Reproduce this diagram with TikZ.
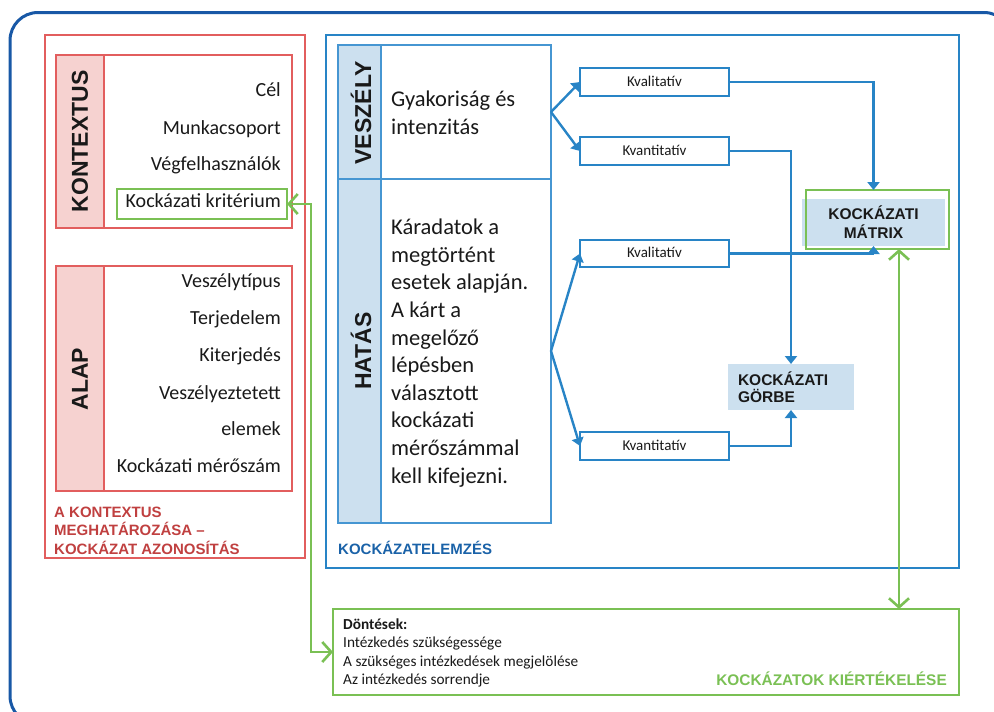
\documentclass[tikz,border=0pt]{standalone}
\usepackage{fontspec}
\setmainfont{Carlito}
\newfontfamily\arialfont{Liberation Sans}
\usetikzlibrary{arrows.meta}

\definecolor{cred}{RGB}{226,94,94}
\definecolor{cpink}{RGB}{246,210,208}
\definecolor{credtext}{RGB}{192,64,64}
\definecolor{cblue}{RGB}{40,132,198}
\definecolor{ctable}{RGB}{70,150,210}
\definecolor{clight}{RGB}{204,224,239}
\definecolor{cframe}{RGB}{24,88,166}
\definecolor{clabel}{RGB}{26,98,168}
\definecolor{cgreen}{RGB}{122,192,84}
\definecolor{ctext}{RGB}{25,25,25}

\begin{document}
\begin{tikzpicture}[x=1pt,y=-1pt,
  box/.style={rectangle, inner sep=0pt, outer sep=0pt},
  redbox/.style={box, draw=cred, line width=2pt},
  pinkside/.style={redbox, fill=cpink},
  tblcell/.style={box, draw=ctable, line width=1.3pt},
  blueside/.style={tblcell, fill=clight},
  smallbox/.style={box, draw=cblue, line width=1.3pt, minimum width=149pt,
    minimum height=28pt, text=ctext, font=\fontsize{15}{17}\selectfont,
    text height=11pt, text depth=3pt},
  rotlabel/.style={rotate=90, inner sep=0pt, text=ctext,
    font=\arialfont\bfseries\fontsize{23}{26}\selectfont},
  listitem/.style={anchor=east, inner sep=0pt, text=ctext,
    font=\fontsize{20}{24}\selectfont, text height=18pt, text depth=4pt},
  bodytext/.style={anchor=west, inner sep=0pt, align=left, text=ctext,
    font=\fontsize{22.5}{27.6}\selectfont},
  capsbold/.style={inner sep=0pt, font=\arialfont\bfseries\fontsize{15}{18.5}\selectfont},
  barrow/.style={draw=cblue, line width=2.4pt, -{Triangle[length=8pt,width=12pt]}},
  gtip/.tip={Straight Barb[length=9pt,width=20pt,line width=2.6pt]},
  garrow/.style={draw=cgreen, line width=2.8pt, gtip-gtip}
]
\useasboundingbox (0,0) rectangle (994,712);

% rounded outer frame, running off the right and bottom edges
\begin{scope}
  \clip (0,0) rectangle (994,712);
  \draw[cframe, line width=3pt, rounded corners=28pt] (10,12.5) rectangle (1012,724);
\end{scope}

% ---------- context definition / risk identification ----------
\node[redbox, minimum width=260pt, minimum height=523pt] (ctx) at (175,296.5) {};
\node[redbox, minimum width=236pt, minimum height=173pt] (kbox) at (174,141.5) {};
\node[pinkside, minimum width=48pt, minimum height=173pt] (kside) at (80,141.5) {};
\node[rotlabel] (kontextus) at (kside.center) {KONTEXTUS};
\node[listitem] (cel) at (281,89) {Cél};
\node[listitem] (munka) at (281,127) {Munkacsoport};
\node[listitem] (vegf) at (281,163) {Végfelhasználók};
\node[box, draw=cgreen, line width=2.2pt, minimum width=170pt, minimum height=30pt] (krit) at (202,204) {};
\node[listitem] (kkrit) at (281,200.5) {Kockázati kritérium};

\node[redbox, minimum width=236pt, minimum height=225pt] (abox) at (174,378.5) {};
\node[pinkside, minimum width=48pt, minimum height=225pt] (aside) at (80,378.5) {};
\node[rotlabel] (alap) at (80,379) {ALAP};
\node[listitem] (tipus) at (281,280) {Veszélytípus};
\node[listitem] (terj) at (281,317) {Terjedelem};
\node[listitem] (kiterj) at (281,354) {Kiterjedés};
\node[listitem] (veszely) at (281,392) {Veszélyeztetett};
\node[listitem] (elemek) at (281,428) {elemek};
\node[listitem] (merosz) at (281,465) {Kockázati mérőszám};

\node[capsbold, anchor=west, align=left, text=credtext] (ctxlabel) at (54,530.5)
  {A KONTEXTUS\\MEGHATÁROZÁSA –\\KOCKÁZAT AZONOSÍTÁS};

% ---------- risk analysis ----------
\node[box, draw=cblue, line width=2.5pt, minimum width=633pt, minimum height=533pt] (anal) at (642.5,301.5) {};
\node[capsbold, anchor=west, text=clabel, text height=10.7pt, text depth=0pt] (anallabel) at (338,549) {KOCKÁZATELEMZÉS};

\node[tblcell, minimum width=170pt, minimum height=134pt] (vbody) at (466,112) {};
\node[tblcell, minimum width=170pt, minimum height=344pt] (hbody) at (466,351) {};
\node[blueside, minimum width=43pt, minimum height=134pt] (vside) at (359.5,112) {};
\node[blueside, minimum width=43pt, minimum height=344pt] (hside) at (359.5,351) {};
\node[rotlabel] (veszlabel) at (361,113) {VESZÉLY};
\node[rotlabel] (hataslabel) at (361,351) {HATÁS};
\node[bodytext] (gyak) at (391,113) {Gyakoriság és\\intenzitás};
\node[bodytext] (karadat) at (391,353)
  {Káradatok a\\megtörtént\\esetek alapján.\\A kárt a\\megelőző\\lépésben\\választott\\kockázati\\mérőszámmal\\kell kifejezni.};

\node[smallbox] (kval1) at (654.5,82) {Kvalitatív};
\node[smallbox] (kvant1) at (654.5,151) {Kvantitatív};
\node[smallbox, minimum height=27pt] (kval2) at (654.5,253.5) {Kvalitatív};
\node[smallbox] (kvant2) at (654.5,446) {Kvantitatív};

\node[box, fill=clight, minimum width=143pt, minimum height=47pt, align=center,
  font=\arialfont\bfseries\fontsize{15.5}{19}\selectfont, text=ctext] (mfill) at (873.5,222.5)
  {KOCKÁZATI\\MÁTRIX};
\node[box, draw=cgreen, line width=2.6pt, minimum width=143pt, minimum height=59pt] (mframe) at (877.5,219.5) {};

\node[box, fill=clight, text width=106pt, inner xsep=10pt, minimum height=46pt, align=left,
  font=\arialfont\bfseries\fontsize{15.5}{17.5}\selectfont, text=ctext] (gorbe) at (791,387)
  {KOCKÁZATI\\GÖRBE};

% ---------- risk evaluation ----------
\node[box, draw=cgreen, line width=2.6pt, minimum width=626pt, minimum height=86pt] (dec) at (646,652) {};
\node[anchor=west, inner sep=0pt, align=left, text=ctext,
  font=\fontsize{15.3}{18.4}\selectfont] (dectext) at (343,653)
  {\textbf{Döntések:}\\Intézkedés szükségessége\\A szükséges intézkedések megjelölése\\Az intézkedés sorrendje};
\node[capsbold, anchor=east, text=cgreen, text height=11pt, text depth=0pt,
  font=\arialfont\bfseries\fontsize{15.4}{18}\selectfont] (evallabel) at (947,680) {KOCKÁZATOK KIÉRTÉKELÉSE};

% ---------- connectors ----------
\draw[barrow] (vbody.east) -- (kval1.west);
\draw[barrow] (vbody.east) -- (kvant1.west);
\draw[barrow] (hbody.east) -- (kval2.west);
\draw[barrow] (hbody.east) -- (kvant2.west);

\draw[barrow] (kval1.east) -| (mfill.north |- mframe.north);
\draw[barrow] (kvant1.east) -| (gorbe.north);
\draw[barrow] (kval2.east) -| (mfill.south);
\draw[barrow] (kvant2.east) -| (gorbe.south);

\coordinate (gx) at (899,0);
\draw[garrow] (mframe.south -| gx) -- (dec.north -| gx);
\coordinate (gturn) at (311,0);
\draw[garrow] (krit.east) -| (gturn |- dec.west) -- (dec.west);
\end{tikzpicture}
\end{document}
